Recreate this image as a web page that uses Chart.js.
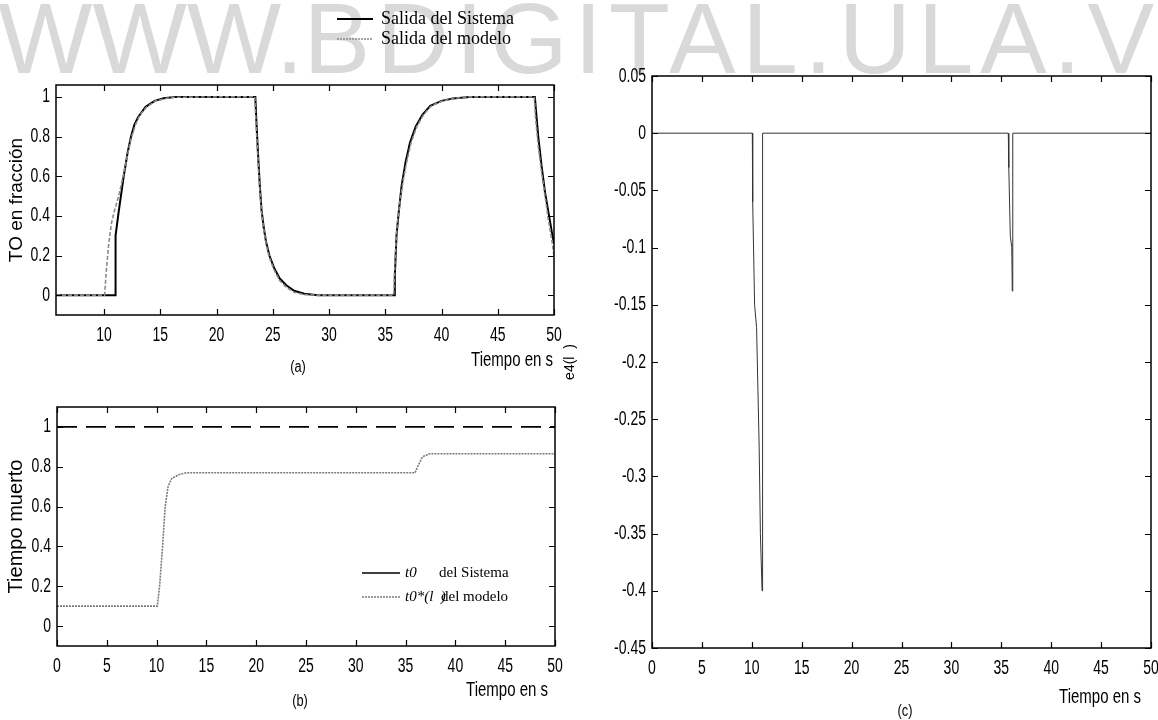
<!DOCTYPE html>
<html>
<head>
<meta charset="utf-8">
<script src="https://cdn.jsdelivr.net/npm/chart.js@4.4.1/dist/chart.umd.min.js"></script>
<style>
  html, body { margin: 0; padding: 0; background: #fff; }
  #page { position: relative; width: 1158px; height: 720px; overflow: hidden; }
  #wm { position: absolute; left: -2px; top: -12px; font: 100px 'Liberation Sans', Arial, sans-serif;
        color: #d9d9d9; white-space: nowrap; line-height: 100px; }
  #wm span { letter-spacing: 6.6px; }
  canvas { position: absolute; }
</style>
</head>
<body>
<div id="page">
  <div id="wm">WWW.<span>BDIGITAL.ULA.VE</span></div>
  <canvas id="chA" width="600" height="390" style="left:0;top:0"></canvas>
  <canvas id="chB" width="600" height="330" style="left:0;top:390px"></canvas>
  <canvas id="chC" width="610" height="720" style="left:560px;top:0"></canvas>
</div>
<script>
// (a) salida del sistema / salida del modelo
const tSysA = [5.73, 10.98, 11.0, 11.05, 11.3, 11.75, 12.1, 12.4, 12.7, 13.05, 13.7, 14.5, 15.3, 16.3, 20.0,
  23.45, 23.55, 23.7, 23.85, 24.0, 24.2, 24.4, 24.7, 25.1, 25.6, 26.2, 26.9, 27.8, 29.0, 33.0,
  35.8, 35.85, 36.0, 36.2, 36.45, 36.8, 37.2, 37.7, 38.3, 39.0, 40.0, 41.0, 42.5, 46.0,
  48.3, 48.4, 48.6, 48.9, 49.2, 49.5, 49.8, 50.0];
const ySysA = [0, 0, 0.2, 0.3, 0.42, 0.6, 0.72, 0.8, 0.86, 0.9, 0.95, 0.98, 0.993, 1.0, 1.0,
  1.0, 0.87, 0.7, 0.55, 0.43, 0.34, 0.27, 0.2, 0.14, 0.085, 0.05, 0.022, 0.007, 0, 0,
  0, 0.1, 0.3, 0.42, 0.55, 0.67, 0.77, 0.85, 0.91, 0.955, 0.98, 0.992, 1.0, 1.0,
  1.0, 0.93, 0.8, 0.65, 0.52, 0.42, 0.32, 0.26];
const tModA = [5.73, 10.05, 10.2, 10.4, 10.65, 10.9, 11.3, 11.7, 12.1, 12.4, 12.8, 13.2, 13.8, 14.6, 16.0, 20.0,
  23.4, 23.5, 23.65, 23.8, 23.95, 24.15, 24.4, 24.7, 25.1, 25.6, 26.2, 26.9, 27.8, 29.0, 33.0,
  35.75, 35.85, 36.05, 36.3, 36.6, 36.9, 37.3, 37.8, 38.4, 39.1, 40.1, 41.2, 42.5, 46.0,
  48.25, 48.35, 48.6, 48.9, 49.2, 49.5, 49.8, 50.0];
const yModA = [0, 0, 0.12, 0.25, 0.36, 0.42, 0.5, 0.6, 0.71, 0.79, 0.86, 0.91, 0.95, 0.98, 0.998, 1.0,
  1.0, 0.88, 0.72, 0.57, 0.45, 0.35, 0.26, 0.19, 0.13, 0.075, 0.04, 0.015, 0.003, 0, 0,
  0, 0.15, 0.35, 0.47, 0.58, 0.67, 0.77, 0.85, 0.91, 0.955, 0.98, 0.993, 1.0, 1.0,
  1.0, 0.9, 0.75, 0.62, 0.5, 0.38, 0.28, 0.2];
const xTicksA = [10, 15, 20, 25, 30, 35, 40, 45, 50];
const yTicksA = [0, 0.2, 0.4, 0.6, 0.8, 1];

// (b) tiempo muerto
const tSysB = [0, 50];
const ySysB = [1, 1];
const tModB = [0, 10.07, 10.3, 10.6, 10.86, 11.15, 11.5, 12.2, 13.0, 20.0, 30.0, 35.95, 36.2, 36.7, 37.4, 45.0, 50.0];
const yModB = [0.1, 0.1, 0.2, 0.4, 0.6, 0.7, 0.74, 0.76, 0.77, 0.77, 0.77, 0.77, 0.8, 0.85, 0.865, 0.865, 0.865];
const xTicksB = [0, 5, 10, 15, 20, 25, 30, 35, 40, 45, 50];
const yTicksB = [0, 0.2, 0.4, 0.6, 0.8, 1];

// (c) error e4
const tE4 = [0, 10.05, 10.09, 10.28, 10.48, 10.74, 10.86, 11.03, 11.08, 35.7, 35.75, 35.9, 36.05, 36.1, 36.15, 50];
const yE4 = [0, 0, -0.06, -0.15, -0.17, -0.275, -0.35, -0.4, 0, 0, -0.03, -0.09, -0.1, -0.138, 0, 0];
const xTicksC = [0, 5, 10, 15, 20, 25, 30, 35, 40, 45, 50];
const yTicksC = [0.05, 0, -0.05, -0.1, -0.15, -0.2, -0.25, -0.3, -0.35, -0.4, -0.45];

const SANS = "'Liberation Sans',Arial,sans-serif";
const SERIF = "'Liberation Serif','Times New Roman',serif";
const pts = (t, y) => t.map((v, i) => ({ x: v, y: y[i] }));
const fmt = v => String(Math.round(v * 100) / 100);

// condensed text (the figure uses a narrow face that isn't installed)
function narrow(ctx, text, x, y, align, size, sx) {
  ctx.save();
  ctx.translate(x, y);
  ctx.scale(sx, 1);
  ctx.font = size + 'px ' + SANS;
  ctx.fillStyle = '#000';
  ctx.textAlign = align;
  ctx.textBaseline = 'middle';
  ctx.fillText(text, 0, 0);
  ctx.restore();
}

function overlay(id, legend, notes) {
  return {
    id,
    afterDraw(chart) {
      const { ctx, chartArea: a, scales: { x, y } } = chart;
      ctx.save();
      ctx.strokeStyle = '#000';
      ctx.lineWidth = 1.5;
      ctx.strokeRect(a.left, a.top, a.width, a.height);
      ctx.lineWidth = 1.2;
      ctx.beginPath();
      x.ticks.forEach(t => {
        const px = Math.round(x.getPixelForValue(t.value)) + 0.5;
        ctx.moveTo(px, a.bottom); ctx.lineTo(px, a.bottom - 6);
        ctx.moveTo(px, a.top); ctx.lineTo(px, a.top + 6);
      });
      y.ticks.forEach(t => {
        const py = Math.round(y.getPixelForValue(t.value)) + 0.5;
        ctx.moveTo(a.left, py); ctx.lineTo(a.left + 6, py);
        ctx.moveTo(a.right, py); ctx.lineTo(a.right - 6, py);
      });
      ctx.stroke();
      ctx.restore();

      // tick labels from the scales' own ticks
      x.ticks.forEach(t => narrow(ctx, t.label || fmt(t.value), x.getPixelForValue(t.value), a.bottom + 20, 'center', 20, 0.7));
      y.ticks.forEach(t => narrow(ctx, t.label || fmt(t.value), a.left - 6, y.getPixelForValue(t.value), 'right', 20, 0.7));

      ctx.save();
      legend.forEach(it => {
        ctx.beginPath();
        ctx.strokeStyle = it.color;
        ctx.lineWidth = it.width;
        ctx.setLineDash(it.dash || []);
        ctx.moveTo(it.x1, it.y); ctx.lineTo(it.x2, it.y);
        ctx.stroke();
        ctx.setLineDash([]);
        ctx.fillStyle = '#000';
        ctx.textBaseline = 'middle';
        ctx.textAlign = 'left';
        it.parts.forEach(p => { ctx.font = p.font; ctx.fillText(p.text, p.x, it.y); });
      });
      ctx.restore();

      notes.forEach(n => narrow(ctx, n.text, n.x, n.y, n.align, n.size, n.sx));
    }
  };
}

function scales(o) {
  return {
    x: {
      type: 'linear', min: o.xmin, max: o.xmax,
      afterBuildTicks: s => { s.ticks = o.xt.map(v => ({ value: v })); },
      afterFit: s => { s.height = o.xh; },
      grid: { display: false }, border: { display: false },
      ticks: { display: false, callback: v => fmt(v) }
    },
    y: {
      type: 'linear', min: o.ymin, max: o.ymax,
      afterBuildTicks: s => { s.ticks = o.yt.map(v => ({ value: v })); },
      afterFit: s => { s.width = o.yw; },
      grid: { display: false }, border: { display: false },
      ticks: { display: false, callback: v => fmt(v) },
      title: { display: true, text: o.ytitle, color: '#000', font: o.ytfont, padding: { top: o.ytpad, bottom: 0 } }
    }
  };
}

const base = {
  responsive: false,
  animation: false,
  events: [],
  plugins: { legend: { display: false }, tooltip: { enabled: false } },
  elements: { point: { radius: 0 }, line: { tension: 0 } }
};

new Chart(document.getElementById('chA'), {
  type: 'line',
  data: {
    datasets: [
      { label: 'Salida del modelo', data: pts(tModA, yModA), borderColor: '#8a8a8a', borderWidth: 1.6, borderDash: [4, 2] },
      { label: 'Salida del Sistema', data: pts(tSysA, ySysA), borderColor: '#000', borderWidth: 2 }
    ]
  },
  options: Object.assign({}, base, {
    layout: { padding: { top: 85, right: 46, left: 0, bottom: 0 } },
    scales: scales({ xmin: 5.73, xmax: 50, ymin: -0.1, ymax: 1.06, xt: xTicksA, yt: yTicksA, xh: 75, yw: 56,
      ytitle: 'TO en fracción', ytfont: { family: SANS, size: 19 }, ytpad: 5 })
  }),
  plugins: [overlay('ovA', [
    { x1: 337, x2: 373, y: 19, color: '#000', width: 2, parts: [{ x: 381, text: 'Salida del Sistema', font: '18px ' + SERIF }] },
    { x1: 337, x2: 373, y: 39, color: '#8a8a8a', width: 1.6, dash: [2, 1], parts: [{ x: 381, text: 'Salida del modelo', font: '18px ' + SERIF }] }
  ], [
    { text: 'Tiempo en s', x: 553, y: 360, align: 'right', size: 20, sx: 0.75 },
    { text: '(a)', x: 298, y: 368, align: 'center', size: 16, sx: 0.8 }
  ])]
});

new Chart(document.getElementById('chB'), {
  type: 'line',
  data: {
    datasets: [
      { label: 't0*(l) del modelo', data: pts(tModB, yModB), borderColor: '#7a7a7a', borderWidth: 1.6, borderDash: [2, 1] },
      { label: 't0 del Sistema', data: pts(tSysB, ySysB), borderColor: '#000', borderWidth: 1.6, borderDash: [20, 9] }
    ]
  },
  options: Object.assign({}, base, {
    layout: { padding: { top: 17, right: 45, left: 0, bottom: 0 } },
    scales: scales({ xmin: 0, xmax: 50, ymin: -0.1, ymax: 1.1, xt: xTicksB, yt: yTicksB, xh: 74, yw: 57,
      ytitle: 'Tiempo muerto', ytfont: { family: SANS, size: 20 }, ytpad: 4 })
  }),
  plugins: [overlay('ovB', [
    { x1: 362, x2: 400, y: 183, color: '#000', width: 1.6, parts: [
      { x: 405, text: 't0', font: 'italic 15px ' + SERIF },
      { x: 439, text: 'del Sistema', font: '15px ' + SERIF }] },
    { x1: 362, x2: 400, y: 207, color: '#7a7a7a', width: 1.6, dash: [2, 1], parts: [
      { x: 405, text: 't0*(l  )', font: 'italic 15px ' + SERIF },
      { x: 441, text: 'del modelo', font: '15px ' + SERIF }] }
  ], [
    { text: 'Tiempo en s', x: 548, y: 300, align: 'right', size: 20, sx: 0.75 },
    { text: '(b)', x: 300, y: 312, align: 'center', size: 16, sx: 0.8 }
  ])]
});

new Chart(document.getElementById('chC'), {
  type: 'line',
  data: {
    datasets: [
      { label: 'e4', data: pts(tE4, yE4), borderColor: '#333', borderWidth: 1 }
    ]
  },
  options: Object.assign({}, base, {
    layout: { padding: { top: 76, right: 19, left: 0, bottom: 0 } },
    scales: scales({ xmin: 0, xmax: 50, ymin: -0.45, ymax: 0.05, xt: xTicksC, yt: yTicksC, xh: 72, yw: 92,
      ytitle: 'e4(l  )', ytfont: { family: SANS, size: 14 }, ytpad: 2 })
  }),
  plugins: [overlay('ovC', [], [
    { text: 'Tiempo en s', x: 581, y: 697, align: 'right', size: 20, sx: 0.75 },
    { text: '(c)', x: 345, y: 712, align: 'center', size: 16, sx: 0.8 }
  ])]
});
</script>
</body>
</html>
